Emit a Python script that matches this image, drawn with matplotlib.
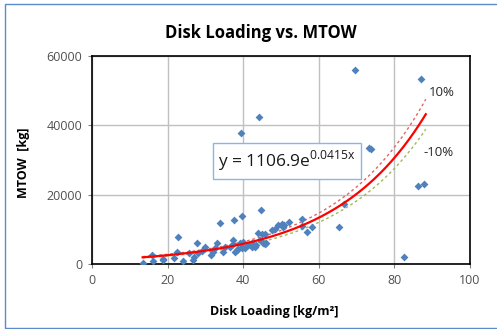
import numpy as np
import matplotlib.pyplot as plt
from matplotlib.patches import Rectangle

# data (disk loading kg/m^2, MTOW kg)
disk_loading = [13.6, 16.0, 16.2, 18.7, 18.9, 21.7, 22.7, 22.4, 24.2, 25.7,
                26.6, 27.1, 27.9, 28.1, 29.0, 30.0, 31.4, 31.9, 32.5, 33.0,
                33.9, 34.7, 35.2, 36.5, 37.4, 37.6, 37.8, 38.3, 38.7, 39.2,
                39.6, 40.0, 39.4, 40.5, 41.4, 42.3, 43.4, 44.4, 45.7, 37.4,
                39.6, 44.3, 44.7, 44.0, 44.9, 45.8, 43.1, 42.3, 45.3, 46.0,
                47.5, 48.4, 49.3, 50.3, 50.9, 50.6, 52.2, 55.5, 55.5, 56.8,
                58.3, 65.4, 66.7, 69.7, 73.4, 73.7, 82.6, 86.2, 87.9, 87.1]
mtow = [380, 2600, 950, 1350, 1200, 1820, 7700, 3460, 960, 3270,
        1150, 2100, 6150, 3080, 3750, 5000, 2600, 3550, 4530, 6150,
        11740, 3550, 5000, 4810, 5770, 12700, 3550, 4040, 4230, 5970,
        4530, 6440, 37900, 4530, 5480, 5000, 5570, 6920, 5770, 6920,
        13850, 42300, 15500, 9030, 8560, 8560, 5000, 5970, 6150, 6150,
        9800, 10100, 11250, 11540, 11250, 10580, 12030, 12900, 10960, 9330,
        10770, 10770, 17300, 55900, 33400, 33100, 1930, 22500, 23000, 53400]

fit_a = 1106.9
fit_b = 0.0415
fit_range = [13.4, 88.3]

plt.rcParams['font.family'] = ['Open Sans', 'DejaVu Sans']

fig = plt.figure(figsize=(4.97, 3.29), dpi=100)
# chart area border (right edge is cut off in the original)
fig.patches.append(Rectangle((5 / 497, 1 - 328 / 329), 1.1, 324 / 329,
                             transform=fig.transFigure, fill=False,
                             edgecolor='#5b8bc9', lw=1.0))

ax = fig.add_axes([92 / 497, 1 - 264 / 329, 378 / 497, 208 / 329])

xs = np.linspace(fit_range[0], fit_range[1], 200)
ys = fit_a * np.exp(fit_b * xs)
ax.plot(xs, ys * 1.1, color='#e06666', lw=1.0, ls=(0, (2, 2)), zorder=3)
ax.plot(xs, ys * 0.9, color='#9bbb59', lw=1.0, ls=(0, (2, 2)), zorder=3)
ax.scatter(disk_loading, mtow, marker='D', s=16, color='#4f81bd', zorder=4,
           linewidths=0)
ax.plot(xs, ys, color='#ff0000', lw=1.6, zorder=5)

ax.set_xlim(0, 100)
ax.set_ylim(0, 60000)
ax.set_xticks(range(0, 101, 20))
ax.set_yticks(range(0, 60001, 20000))
ax.grid(True, color='#c0c0c0', lw=1.0)
ax.set_axisbelow(True)
for s in ax.spines.values():
    s.set_color('#000000')
    s.set_linewidth(1.2)
ax.tick_params(direction='out', length=3, width=0.8, colors='#808080',
               labelcolor='#505050', labelsize=9, pad=4)

ax.text(89.2, 49600, '10%', fontsize=9.5, color='#262626', va='center')
ax.text(87.8, 32300, '-10%', fontsize=9.5, color='#262626', va='center')

fig.text(218 / 497, 1 - 161 / 329, r'y = 1106.9e$^{\mathregular{0.0415x}}$',
         fontsize=12.5, color='#1a1a1a', va='center', ha='left',
         bbox=dict(boxstyle='square,pad=0.3', fc='white', ec='#8eb4e3', lw=1.0),
         zorder=10)

fig.text(261 / 497, 1 - 33 / 329, 'Disk Loading vs. MTOW', fontsize=12,
         fontweight='bold', ha='center', va='center')
fig.text(274 / 497, 1 - 312 / 329, 'Disk Loading [kg/m²]', fontsize=9,
         fontweight='bold', ha='center', va='center')
fig.text(24 / 497, 1 - 163 / 329, 'MTOW  [kg]', fontsize=9,
         fontweight='bold', ha='center', va='center', rotation=90)

fig.savefig('out.png', dpi=100)
